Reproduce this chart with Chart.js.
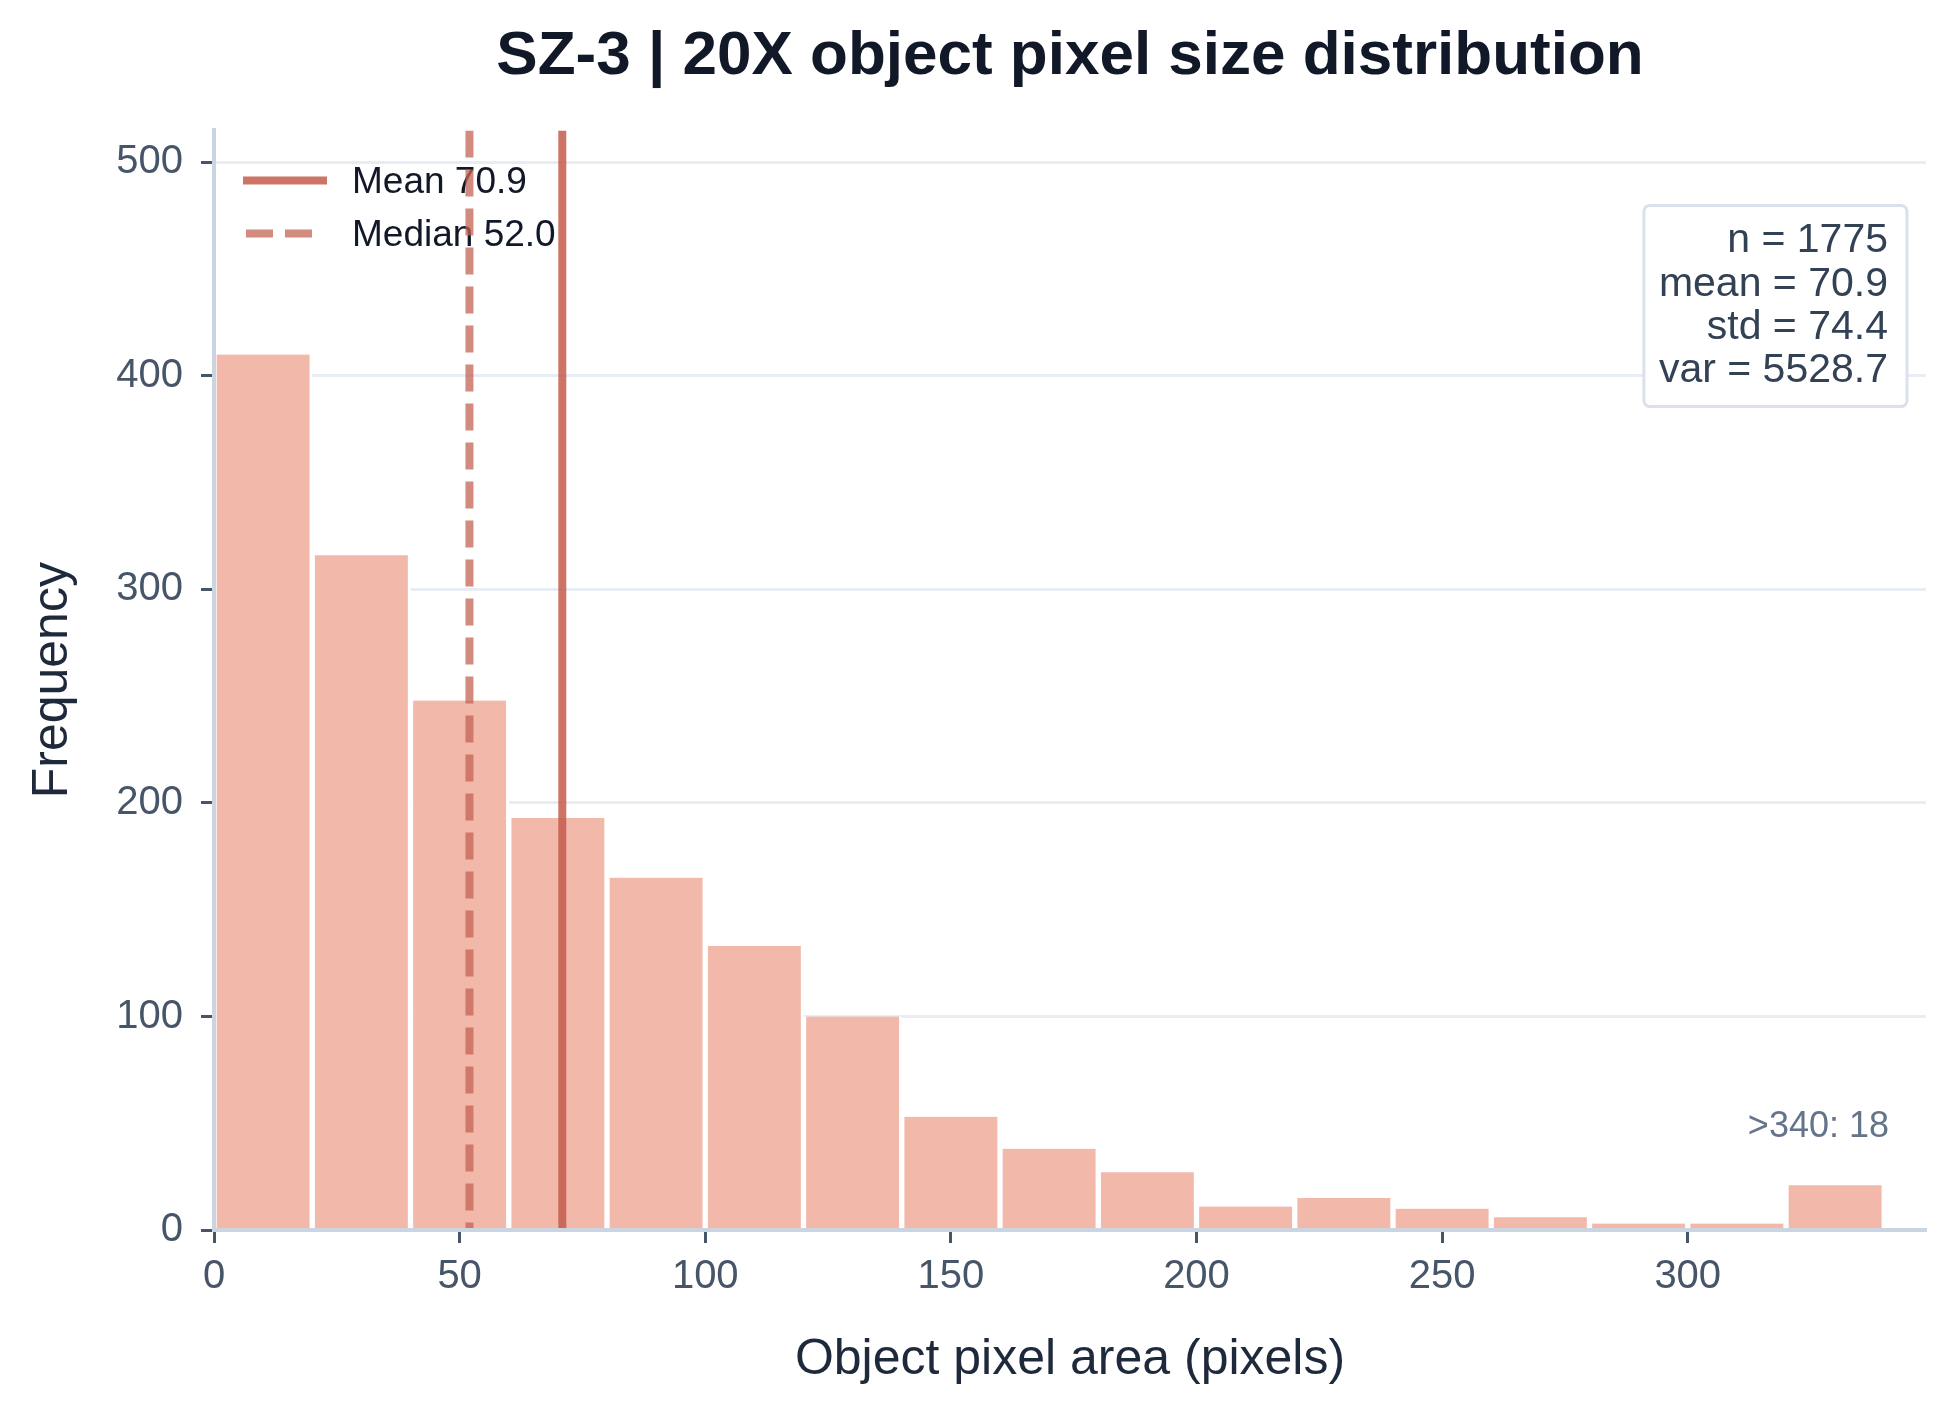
<!DOCTYPE html>
<html>
<head>
<meta charset="utf-8">
<title>SZ-3 | 20X object pixel size distribution</title>
<script src="https://cdn.jsdelivr.net/npm/chart.js@4.4.1/dist/chart.umd.min.js"></script>
<style>
  html, body { margin: 0; padding: 0; background: #ffffff; }
  #wrap { width: 1954px; height: 1414px; }
</style>
</head>
<body>
<div id="wrap"><canvas id="hist" width="1954" height="1414"></canvas></div>
<script>
// histogram bins (20 px wide)
const binCenters = [10, 30, 50, 70, 90, 110, 130, 150, 170, 190, 210, 230, 250, 270, 290, 310, 330];
const counts = [410, 316, 248, 193, 165, 133, 100, 53, 38, 27, 11, 15, 10, 6, 3, 3, 21];

const xTicks = [0, 50, 100, 150, 200, 250, 300];
const yTicks = [0, 100, 200, 300, 400, 500];

const meanValue = 70.9;
const medianValue = 52.0;
const statsLines = ['n = 1775', 'mean = 70.9', 'std = 74.4', 'var = 5528.7'];
const overflowNote = '>340: 18';

const xMax = 348.5;
const yMax = 515;

const FONT = '"Liberation Sans", Arial, sans-serif';
const barFill = '#f2b8aa';
const meanColor = 'rgba(196, 92, 76, 0.85)';
const medianColor = 'rgba(196, 100, 84, 0.75)';

// legend, stats box and overflow note drawn on the canvas
const overlay = {
  id: 'overlay',
  beforeDatasetsDraw(chart) {
    const { ctx, chartArea: a } = chart;
    const rows = [chart.data.datasets[1], chart.data.datasets[2]];
    ctx.save();
    ctx.font = '37px ' + FONT;
    ctx.textBaseline = 'alphabetic';
    rows.forEach((ds, i) => {
      const y = a.top + 50 + i * 53;
      ctx.beginPath();
      ctx.strokeStyle = ds.borderColor;
      ctx.lineWidth = ds.borderWidth;
      ctx.lineCap = 'butt';
      if (ds.borderDash) {
        ctx.setLineDash(ds.borderDash);
        ctx.moveTo(a.left + 32, y);
        ctx.lineTo(a.left + 99, y);
      } else {
        ctx.setLineDash([]);
        ctx.moveTo(a.left + 29, y);
        ctx.lineTo(a.left + 113, y);
      }
      ctx.stroke();
      ctx.setLineDash([]);
      ctx.fillStyle = '#111827';
      ctx.fillText(ds.label, a.left + 138, y + 13);
    });
    ctx.restore();
  },
  afterDraw(chart) {
    const { ctx, chartArea: a } = chart;
    ctx.save();

    // stats box, top right
    ctx.font = '41px ' + FONT;
    const w = Math.max(...statsLines.map(t => ctx.measureText(t).width));
    const lh = 43.3;
    const right = a.right - 19;
    const top = a.top + 75;
    const boxW = w + 34;
    const boxH = statsLines.length * lh + 28;
    const left = right - boxW;
    const r = 6;
    ctx.beginPath();
    ctx.moveTo(left + r, top);
    ctx.arcTo(right, top, right, top + boxH, r);
    ctx.arcTo(right, top + boxH, left, top + boxH, r);
    ctx.arcTo(left, top + boxH, left, top, r);
    ctx.arcTo(left, top, right, top, r);
    ctx.closePath();
    ctx.fillStyle = 'rgba(255,255,255,0.92)';
    ctx.fill();
    ctx.lineWidth = 3;
    ctx.strokeStyle = '#dbe1ea';
    ctx.stroke();
    ctx.fillStyle = '#334155';
    ctx.textAlign = 'right';
    ctx.textBaseline = 'alphabetic';
    statsLines.forEach((t, i) => ctx.fillText(t, right - 19, top + 47 + i * lh));

    // overflow note, bottom right
    ctx.font = '36px ' + FONT;
    ctx.fillStyle = '#64748b';
    ctx.fillText(overflowNote, a.right - 37, a.bottom - 93);
    ctx.restore();
  }
};

const ctx = document.getElementById('hist').getContext('2d');
new Chart(ctx, {
  type: 'bar',
  data: {
    datasets: [
      {
        type: 'bar',
        label: 'Frequency',
        data: binCenters.map((x, i) => ({ x: x, y: counts[i] })),
        backgroundColor: barFill,
        borderColor: '#ffffff',
        borderWidth: { left: 3, right: 3, top: 0, bottom: 0 },
        barPercentage: 1,
        categoryPercentage: 1,
        order: 3
      },
      {
        type: 'line',
        label: 'Mean ' + meanValue.toFixed(1),
        data: [{ x: meanValue, y: yMax }, { x: meanValue, y: 0 }],
        borderColor: meanColor,
        borderWidth: 8,
        borderCapStyle: 'butt',
        pointRadius: 0,
        fill: false,
        order: 1
      },
      {
        type: 'line',
        label: 'Median ' + medianValue.toFixed(1),
        data: [{ x: medianValue, y: yMax }, { x: medianValue, y: 0 }],
        borderColor: medianColor,
        borderWidth: 8,
        borderDash: [27, 12],
        borderCapStyle: 'butt',
        pointRadius: 0,
        fill: false,
        order: 2
      }
    ]
  },
  options: {
    responsive: false,
    animation: false,
    devicePixelRatio: 1,
    layout: { padding: { left: 0, right: 28, top: 0, bottom: 0 } },
    plugins: {
      legend: { display: false },
      tooltip: { enabled: false },
      title: {
        display: true,
        fullSize: false,
        text: 'SZ-3 | 20X object pixel size distribution',
        color: '#111827',
        font: { family: FONT, size: 62, weight: 'bold', lineHeight: 1.2 },
        padding: { top: 20, bottom: 36 }
      }
    },
    scales: {
      x: {
        type: 'linear',
        min: 0,
        max: xMax,
        offset: false,
        afterBuildTicks: s => { s.ticks = xTicks.map(v => ({ value: v })); },
        afterFit: s => { s.height = 184; },
        ticks: {
          includeBounds: false,
          color: '#475569',
          padding: 10,
          maxRotation: 0,
          font: { family: FONT, size: 40, lineHeight: 1.2 }
        },
        grid: {
          offset: false,
          drawOnChartArea: false,
          drawTicks: true,
          tickLength: 13,
          tickWidth: 3,
          tickColor: '#475569'
        },
        border: { display: true, color: '#cbd5e1', width: 4, z: 1 },
        title: {
          display: true,
          text: 'Object pixel area (pixels)',
          color: '#1e293b',
          font: { family: FONT, size: 50, lineHeight: 1.2 },
          padding: { top: 0, bottom: 24 }
        }
      },
      y: {
        type: 'linear',
        min: 0,
        max: yMax,
        afterBuildTicks: s => { s.ticks = yTicks.map(v => ({ value: v })); },
        afterFit: s => { s.width = 214; },
        ticks: {
          includeBounds: false,
          color: '#475569',
          padding: 18,
          font: { family: FONT, size: 40, lineHeight: 1.2 }
        },
        grid: {
          color: '#e8ecf3',
          lineWidth: 3,
          drawTicks: true,
          tickLength: 13,
          tickWidth: 3,
          tickColor: '#475569'
        },
        border: { display: true, color: '#cbd5e1', width: 4, z: 1 },
        title: {
          display: true,
          text: 'Frequency',
          color: '#1e293b',
          font: { family: FONT, size: 50, lineHeight: 1.2 },
          padding: { top: 23, bottom: 0 }
        }
      }
    }
  },
  plugins: [overlay]
});
</script>
</body>
</html>
